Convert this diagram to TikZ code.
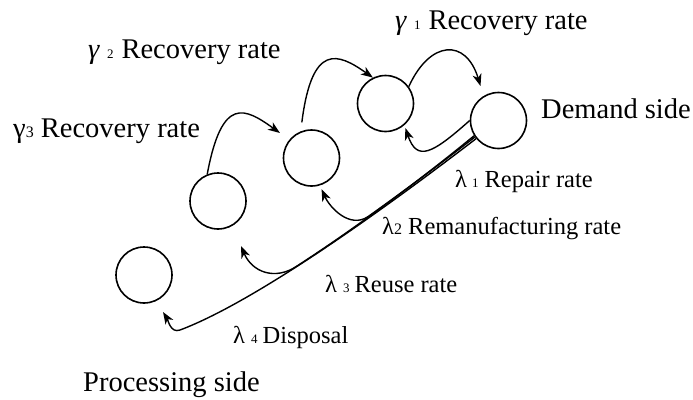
\documentclass[tikz,border=0pt]{standalone}
\usepackage{fontspec}
\setmainfont{Liberation Serif}
\usetikzlibrary{arrows.meta}

\newcommand{\smalldigit}[1]{{\fontsize{13}{13}\selectfont #1}}
\newcommand{\middigit}[1]{{\fontsize{16}{16}\selectfont #1}}

\begin{document}
\begin{tikzpicture}[
  x=1pt, y=-1pt,
  stage/.style={circle, draw, line width=1.6pt, minimum size=56pt, inner sep=0pt},
  flow/.style={-{Stealth[length=12pt,width=9pt,inset=3.5pt]}, line width=1.4pt},
  lbl/.style={anchor=base west, inner sep=0pt, font=\fontsize{24.5}{26}\selectfont},
  biglbl/.style={anchor=base west, inner sep=0pt, font=\fontsize{28.5}{30}\selectfont}
]
\useasboundingbox (0,0) rectangle (693,399);

\node (demand) [stage] at (498.5,120.5) {};
\node (rec1) [stage] at (385.5,103.5) {};
\node (rec2) [stage] at (311.5,158) {};
\node (rec3) [stage] at (218,201) {};
\node (proc) [stage] at (144,275) {};

\node (g1) [biglbl] at (395,29) {\textit{γ}\hspace{7pt}\smalldigit{1}\hspace{8pt}Recovery rate};
\node (g2) [biglbl] at (88,58) {\textit{γ}\hspace{7pt}\smalldigit{2}\hspace{8pt}Recovery rate};
\node (g3) [biglbl] at (13,137) {γ\middigit{3} Recovery rate};
\node (demandlbl) [biglbl] at (541,118) {Demand side};
\node (l1) [lbl] at (455,187) {λ\hspace{5pt}\smalldigit{1}\hspace{6pt}Repair rate};
\node (l2) [lbl] at (382,234) {λ\middigit{2} Remanufacturing rate};
\node (l3) [lbl] at (325,292) {λ\hspace{6pt}\smalldigit{3}\hspace{5pt}Reuse rate};
\node (l4) [lbl] at (233,343) {λ\hspace{6pt}\smalldigit{4}\hspace{5pt}Disposal};
\node (proclbl) [biglbl] at (83,391) {Processing side};

\coordinate (tg1) at (480.5,86);
\coordinate (tg3) at (280,133);
\coordinate (tl3) at (241,246);
\coordinate (tl4) at (163,312);

% recovery
\draw [flow] (rec1.36) .. controls (430,40) and (466,38) .. (tg1);
\draw [flow, shorten <=9pt] (rec2.112) .. controls (312,42) and (338,53) .. (rec1.116);
\draw [flow] (rec3.112) .. controls (222,95) and (245,108) .. (tg3);

% return flows
\draw [flow, shorten >=3pt] (demand.180) .. controls (432,154) and (417,162) .. (rec1.-49);
\draw [flow, shorten >=4pt] (demand.215) .. controls (446.5,159) and (408.6,187.8) .. (368.2,216.5)
  .. controls (350,229) and (330,208) .. (rec2.-73);
\draw [flow] (demand.212) .. controls (430,172) and (362,224) .. (297,266)
  .. controls (275,281) and (252,272) .. (tl3);
\draw [flow] (demand.219) .. controls (400,197) and (260,300) .. (180,330)
  .. controls (170.6,333.5) and (168,320) .. (tl4);

\end{tikzpicture}
\end{document}
